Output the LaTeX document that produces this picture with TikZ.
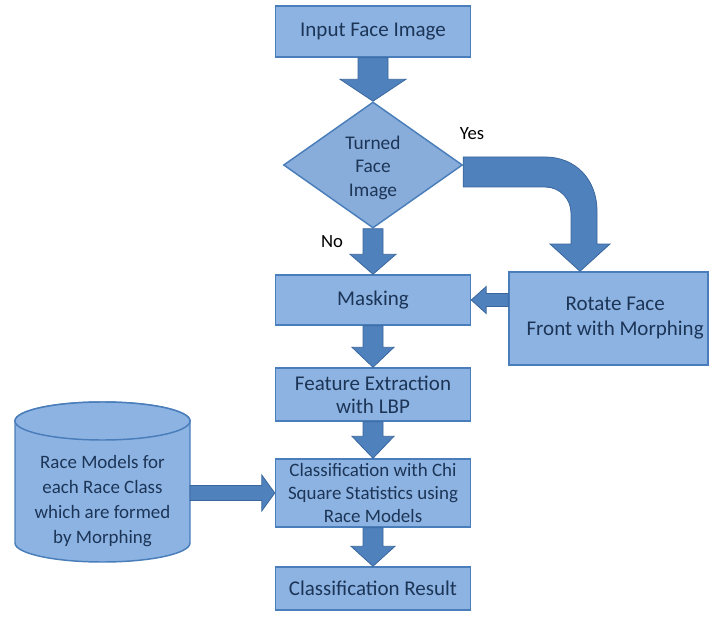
\documentclass[tikz,border=0pt]{standalone}
\usepackage{fontspec}
\setmainfont{Carlito}
\usetikzlibrary{shapes.geometric,calc}
\definecolor{boxfill}{HTML}{8DB3E2}
\definecolor{boxline}{HTML}{4A7EBB}
\definecolor{dfill}{HTML}{89ADDA}
\definecolor{arrfill}{HTML}{4F81BD}
\definecolor{arrline}{HTML}{3A679E}
\definecolor{txt}{HTML}{1C3557}
\tikzset{
  procbox/.style={draw=boxline, fill=boxfill, line width=1.1pt, text=txt, align=center,
    inner sep=0pt, minimum width=146.25pt, font=\fontsize{15.75}{17.5}\selectfont},
  smalltext/.style={font=\fontsize{14.2}{17.5}\selectfont},
  decision/.style={diamond, draw=boxline, fill=dfill, line width=1.1pt, text=txt, align=center,
    inner sep=0pt, minimum width=134.25pt, minimum height=94.5pt, font=\fontsize{14.5}{17.5}\selectfont},
  blockarrow/.style={fill=arrfill, draw=arrline, line width=0.6pt, line join=miter},
  cylstyle/.style={fill=boxfill, draw=boxline, line width=1.1pt},
  lbl/.style={text=black, font=\fontsize{14}{16}\selectfont},
}
% vertical block arrow: start, tip, shaft half width, head half width, signed head length
\newcommand\vblk[5]{\path[blockarrow] ($(#1)+(-#3,0)$) -- ($(#2)+(-#3,#5)$) -- ($(#2)+(-#4,#5)$) -- (#2)
  -- ($(#2)+(#4,#5)$) -- ($(#2)+(#3,#5)$) -- ($(#1)+(#3,0)$) -- cycle;}
% horizontal block arrow
\newcommand\hblk[5]{\path[blockarrow] ($(#1)+(0,-#3)$) -- ($(#2)+(#5,-#3)$) -- ($(#2)+(#5,-#4)$) -- (#2)
  -- ($(#2)+(#5,#4)$) -- ($(#2)+(#5,#3)$) -- ($(#1)+(0,#3)$) -- cycle;}
\begin{document}
\begin{tikzpicture}[x=0.75pt, y=-0.75pt]
\useasboundingbox (0,0) rectangle (715,617);
\fill[white] (0,0) rectangle (715,617);

% nodes
\node[procbox, minimum height=38.25pt] (inp) at (373,31.5) {Input Face Image};
\node[decision] (dia) at (373,165) {\rule{0pt}{14pt}Turned\\Face\\Image};
\node[procbox, minimum height=37.5pt] (mask) at (373,300) {Masking};
\node[procbox, minimum width=149.25pt, minimum height=69.75pt, font=\fontsize{15.75}{18.75}\selectfont] (rot) at (608.5,318.5) {\hspace*{10pt}Rotate Face\\\hspace*{10pt}Front with Morphing};
\node[procbox, minimum height=39.75pt] (feat) at (373,394.5) {Feature Extraction\\with LBP};
\node[procbox, minimum height=51pt, smalltext] (cls) at (373,493) {Classification with Chi\\Square Statistics using\\Race Models};
\node[procbox, minimum height=32.25pt] (res) at (373,588.5) {Classification Result};

% cylinder
\path[cylstyle] (15,421) -- (15,543) arc[start angle=180, end angle=360, x radius=65.625pt, y radius=14.25pt]
  -- (190,421) arc[start angle=0, end angle=180, x radius=65.625pt, y radius=14.25pt] -- cycle;
\path[cylstyle] (102.5,421) ellipse[x radius=65.625pt, y radius=14.25pt];
\node[text=txt, align=center, font=\fontsize{14.2}{18.75}\selectfont] (db) at (102.5,501) {Race Models for\\each Race Class\\which are formed\\by Morphing};
\coordinate (cylR) at (190,493);

% labels
\node[lbl] (yes) at (472,134) {Yes};
\node[lbl] (no) at (332,242) {No};

% arrows
\vblk{inp.south}{dia.north}{15}{33}{-22}
\vblk{dia.south}{mask.north}{10}{23}{-20}
\vblk{mask.south}{feat.north}{10}{21}{-20}
\vblk{feat.south}{cls.north}{10}{21}{-22}
\vblk{cls.south}{res.north}{10}{22}{-20}
\coordinate (rs) at ($(rot.west)+(0,-18.5)$);
\hblk{rs}{mask.east}{6.5}{13.5}{15}
\hblk{cylR}{cls.west}{7.5}{18}{-13}

% curved Yes arrow
\coordinate (ytip) at ($(rot.north)+(-28.5,0)$);
\path[blockarrow] ($(dia.east)+(0,-8)$) -- (545,157) .. controls (576,157) and (597,180) .. (597,211)
  -- (597,244) -- (610,244) -- (ytip) -- (550,244) -- (571,244) -- (571,213)
  .. controls (571,199) and (560,187) .. (545,187) -- ($(dia.east)+(0,22)$) -- cycle;
\end{tikzpicture}
\end{document}
